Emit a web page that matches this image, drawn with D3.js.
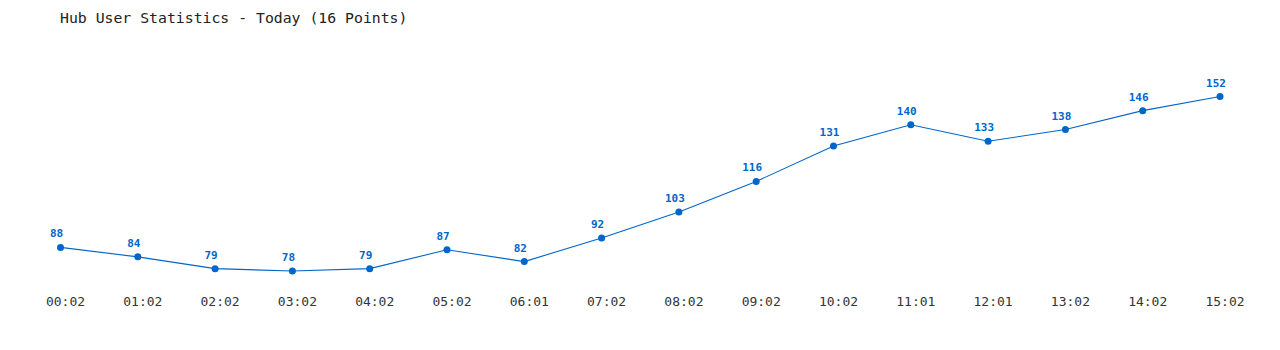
<!DOCTYPE html>
<html>
<head>
<meta charset="utf-8">
<script src="https://cdn.jsdelivr.net/npm/d3@7"></script>
<style>
  body { margin: 0; background: #fff; }
  text { font-family: "DejaVu Sans Mono", "Liberation Mono", monospace; }
</style>
</head>
<body>
<div id="chart-area"></div>
<script>
// hub users per hour, today
const times = ["00:02", "01:02", "02:02", "03:02", "04:02", "05:02", "06:01", "07:02",
               "08:02", "09:02", "10:02", "11:01", "12:01", "13:02", "14:02", "15:02"]
const users = [88, 84, 79, 78, 79, 87, 82, 92, 103, 116, 131, 140, 133, 138, 146, 152]
const title = "Hub User Statistics - Today (16 Points)"

const svg = d3.select("#chart-area")
    .append("svg")
    .attr("width", 1280)
    .attr("height", 350)

svg.append("text")
    .attr("x", 60)
    .attr("y", 23)
    .attr("font-size", 14.8)
    .attr("fill", "#222")
    .text(title)

const x = d3.scalePoint()
    .domain(times)
    .range([60.5, 1220])

const y = d3.scaleLinear()
    .domain([d3.min(users), d3.max(users)])
    .range([271, 96.5])

// x axis labels only, a bit right of the points like the original
const xAxisCall = d3.axisBottom(x).tickSize(0).tickPadding(0)
svg.append("g")
    .attr("class", "x axis")
    .attr("transform", "translate(4.5, 297)")
    .call(xAxisCall)
    .call(g => g.select(".domain").remove())
    .selectAll("text")
    .attr("font-size", 13)
    .attr("font-family", "DejaVu Sans Mono, monospace")
    .attr("fill", "#333")

const data = times.map((t, i) => ({ t: t, v: users[i] }))

const line = d3.line()
    .x(d => x(d.t))
    .y(d => y(d.v))

svg.append("path")
    .datum(data)
    .attr("fill", "none")
    .attr("stroke", "#0066cc")
    .attr("stroke-width", 1.1)
    .attr("d", line)

svg.selectAll("circle")
    .data(data)
    .enter().append("circle")
    .attr("cx", d => x(d.t))
    .attr("cy", d => y(d.v))
    .attr("r", 3.5)
    .attr("fill", "#0066cc")

svg.selectAll(".val")
    .data(data)
    .enter().append("text")
    .attr("class", "val")
    .attr("x", d => x(d.t) - 4)
    .attr("y", d => y(d.v) - 10)
    .attr("text-anchor", "middle")
    .attr("font-size", 11)
    .attr("font-weight", "bold")
    .attr("fill", "#0066cc")
    .text(d => d.v)
</script>
</body>
</html>
